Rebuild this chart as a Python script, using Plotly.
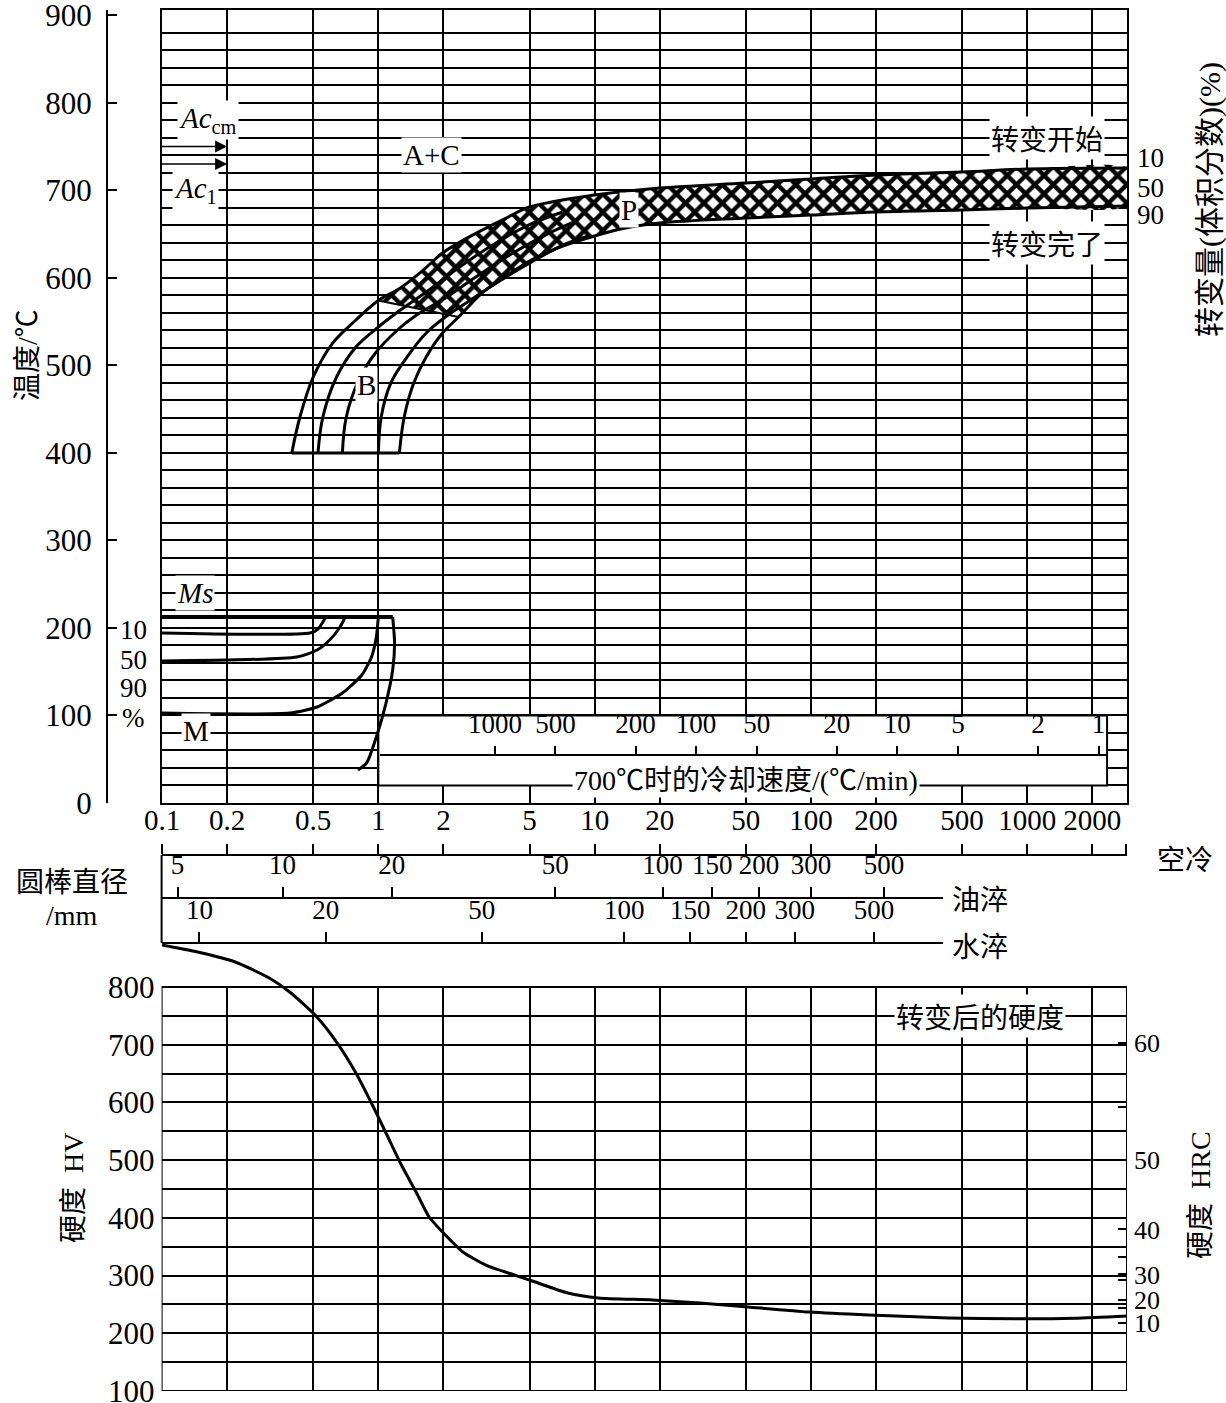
import math
import plotly.graph_objects as go

W, H = 1226, 1403

# ---------------- data ----------------
# x values are expressed on the air-cooled round-bar diameter scale (mm)
air_ticks = [0.1, 0.2, 0.5, 1, 2, 5, 10, 20, 50, 100, 200, 500, 1000, 2000]
air_labels = ["0.1", "0.2", "0.5", "1", "2", "5", "10", "20", "50", "100", "200", "500", "1000", "2000"]
oil_labels = ["5", "10", "20", "50", "100", "150", "200", "300", "500"]
oil_at_air = [0.118, 0.361, 1.153, 6.58, 20.6, 35.0, 57.5, 100, 217.5]
water_labels = ["10", "20", "50", "100", "150", "200", "300", "500"]
water_at_air = [0.149, 0.572, 3.01, 13.7, 27.7, 50, 84.1, 195.8]
rate_ticks = [1000, 500, 200, 100, 50, 20, 10, 5, 2, 1]
temp_ticks = [0, 100, 200, 300, 400, 500, 600, 700, 800, 900]
hv_ticks = [100, 200, 300, 400, 500, 600, 700, 800]
hrc_labels = ["60", "50", "40", "30", "20", "10"]
hrc_at_hv = [703, 500, 380, 302, 258, 218]
hrc_minor_at_hv = [592, 332, 292, 244]

ac_cm_t = 750
ac1_t = 730
ms_t = 212.5
bainite_base_t = 400

# pearlite start (10 %) incl. bainite start branch
ps_x = [0.398, 0.434, 0.5, 0.615, 0.788, 1.0, 1.264, 1.615, 1.98, 2.62, 3.90, 5, 10, 20, 50, 100, 200, 500, 1000, 2900]
ps_t = [400, 441, 486.7, 525.5, 551.8, 574, 588.4, 609, 628.4, 646.6, 668.3, 680.9, 694.6, 702.6, 708.3, 712.9, 717.5, 720.9, 724.3, 725.5]
# pearlite finish (90 %) incl. bainite finish branch
pf_x = [1.251, 1.317, 1.458, 1.664, 1.98, 2.35, 3.05, 3.90, 5, 6.73, 10, 13.87, 20, 50, 100, 200, 500, 1000, 2900]
pf_t = [400, 441, 479.8, 509.5, 536.9, 555.2, 583.8, 602.1, 619.2, 634.1, 647.8, 656.9, 662.6, 668.3, 671.7, 675.2, 677.5, 679.7, 682.1]
# intermediate bainite / pearlite curves
b2_x = [0.526, 0.554, 0.641, 0.788, 1.0, 1.264, 1.664, 2.27, 3.32, 4.84, 7.11]
b2_t = [400, 441, 486.7, 521, 543.8, 563.2, 583.8, 608.9, 636.4, 659.2, 675.2]
b3_x = [0.682, 0.711, 0.813, 0.970, 1.226, 1.503, 2.04, 2.82, 4.12, 6.03, 8.39]
b3_t = [400, 441, 483.3, 514.1, 540.4, 557.5, 576.9, 600.9, 627.2, 650, 666]
b4_x = [1.0, 1.031, 1.142, 1.357, 1.664, 2.04, 2.67, 3.70, 5.11, 7.15, 9.36]
b4_t = [400, 441, 479.8, 509.5, 537, 555.2, 574.7, 597.5, 618.1, 637.5, 647.8]

# martensite curves
m10_x = [0.1, 0.484, 0.526, 0.554, 0.572]
m10_t = [194.2, 194.2, 198.8, 206.8, 212.5]
m50_x = [0.1, 0.420, 0.521, 0.596, 0.661, 0.696, 0.703]
m50_t = [162.2, 166.8, 174.8, 186.2, 199.9, 210.2, 212.5]
m90_x = [0.1, 0.389, 0.521, 0.682, 0.839, 0.930, 0.979, 1.0]
m90_t = [102.8, 102.8, 109.7, 125.7, 146.2, 166.8, 189.6, 212.5]
m_end_x = [1.165, 1.189, 1.165, 1.085, 0.979, 0.883, 0.805]
m_end_t = [212.5, 182.8, 151.9, 114.2, 75.4, 45.7, 37.7]

# hardness after transformation
hv_x = [0.1, 0.146, 0.218, 0.313, 0.389, 0.51, 0.641, 0.788, 0.979, 1.107, 1.264, 1.503, 1.717, 1.98,
        2.46, 3.14, 5, 7.51, 10.4, 18.5, 30.7, 51.1, 97.9, 185.6, 431.5, 892, 1660, 2900]
hv_y = [872.8, 860.7, 843.4, 815.6, 791.4, 751.5, 704.7, 651, 581.7, 540.1, 495.1, 443.1, 401.5, 375.5,
        340.9, 318.3, 292.3, 269.8, 261.2, 257.7, 252.5, 245.6, 236.9, 231.7, 226.5, 225, 226, 230]

# ---------------- layout helpers ----------------
def px_x(px):
    return px / W

def px_y(py):
    return 1 - py / H

SERIF = "Liberation Serif"
CJK = "Noto Sans CJK SC"
MIX = "Liberation Serif, Noto Sans CJK SC"
FS = 29
FC = 28
tickfont = dict(family=SERIF, size=FS, color="black")
yfont = dict(family=SERIF, size=31, color="black")
smallfont = dict(family=SERIF, size=27, color="black")

X0, X1 = 161.6, 1127
XR = [-1.002, 3.4613]
PPD = (X1 - X0) / (XR[1] - XR[0])  # px per decade
XDOM = [px_x(X0), px_x(X1)]
YDOM = [px_y(803), px_y(10)]
YR = [0, 906]
Y2DOM = [px_y(1391), px_y(944)]
Y2R = [100, 100 + (1391 - 944) / 0.5771]
SCALE_END = 943
SDOM = [px_x(X0), px_x(SCALE_END)]
SR = [XR[0], XR[0] + (SCALE_END - X0) / PPD]
XLO, XHI = 10 ** XR[0], 10 ** XR[1]

fig = go.Figure()


def line(x, y, xa="x", ya="y", width=3, smooth=0.6):
    fig.add_trace(go.Scatter(x=x, y=y, mode="lines", xaxis=xa, yaxis=ya,
                             line=dict(color="black", width=width,
                                       shape="spline" if smooth else "linear",
                                       smoothing=smooth if smooth else 1),
                             showlegend=False, hoverinfo="skip"))

# hatched pearlite band
k = ps_x.index(1.0)
j = pf_x.index(2.35)
band_x = ps_x[k:] + pf_x[j:][::-1]
band_t = ps_t[k:] + pf_t[j:][::-1]
fig.add_trace(go.Scatter(x=band_x, y=band_t, mode="lines", fill="toself",
                         fillcolor="white",
                         line=dict(color="rgba(0,0,0,0)", width=0, shape="spline", smoothing=0.6),
                         fillpattern=dict(shape="x", fgcolor="black", bgcolor="white", fgopacity=1,
                                          size=13, solidity=0.55),
                         showlegend=False, hoverinfo="skip"))
line(ps_x, ps_t, smooth=1.0)
line(pf_x, pf_t, smooth=1.0)
line(b2_x, b2_t, smooth=1.0)
line(b3_x, b3_t, smooth=1.0)
line(b4_x, b4_t, smooth=1.0)
line([ps_x[k], pf_x[j]], [ps_t[k], pf_t[j]], width=2, smooth=0)
line([ps_x[0], pf_x[0]], [bainite_base_t, bainite_base_t], width=3, smooth=0)

# martensite
line([0.1, m_end_x[0]], [ms_t, ms_t], width=4, smooth=0)
line(m10_x, m10_t)
line(m50_x, m50_t)
line(m90_x, m90_t)
line(m_end_x, m_end_t)

# hardness curve
line(hv_x, hv_y, xa="x2", ya="y2", width=3)

# dummy traces to materialise extra axes
for xa, ya in [("x", "y3"), ("x3", "y5"), ("x4", "y5"), ("x5", "y5"), ("x6", "y5"), ("x2", "y4")]:
    fig.add_trace(go.Scatter(x=[], y=[], xaxis=xa, yaxis=ya, showlegend=False, hoverinfo="skip"))

grid = dict(showgrid=True, gridcolor="black", gridwidth=2, zeroline=False, automargin=False)


def scale_axis(domain, rng, pos, vals, texts, ticklen=10, font=tickfont):
    return dict(domain=domain, range=rng, type="log", anchor="free", position=pos, side="top",
                tickmode="array", tickvals=vals, ticktext=texts, ticks="outside", ticklen=ticklen,
                tickwidth=2, tickcolor="black", showline=True, linecolor="black", linewidth=2,
                showgrid=False, zeroline=False, tickfont=font, ticklabelstandoff=2,
                tickangle=0, automargin=False, ticklabeloverflow="allow")

fig.update_layout(
    width=W, height=H, margin=dict(l=0, r=0, t=0, b=0, autoexpand=False),
    paper_bgcolor="white", plot_bgcolor="rgba(0,0,0,0)",
    xaxis=dict(domain=XDOM, range=XR, type="log", anchor="y", tickmode="array", tickvals=air_ticks,
               showticklabels=False, ticks="", showline=True, mirror=True, linecolor="black", linewidth=2, **grid),
    yaxis=dict(domain=YDOM, range=YR, anchor="x", tickmode="array", tickvals=list(range(20, 900, 20)),
               showticklabels=False, ticks="", showline=True, mirror=True, linecolor="black", linewidth=2, **grid),
    yaxis3=dict(overlaying="y", anchor="free", position=px_x(107), side="left", range=YR,
                tickmode="array", tickvals=temp_ticks, ticktext=[str(t) for t in temp_ticks],
                ticks="inside", ticklen=9, tickwidth=2, tickcolor="black", showline=True,
                linecolor="black", linewidth=2, showgrid=False, zeroline=False, tickfont=yfont,
                ticklabelstandoff=8, automargin=False, ticklabeloverflow="allow"),
    xaxis3=scale_axis(XDOM, XR, px_y(855), air_ticks + [2850], air_labels + [""]),
    xaxis4=scale_axis(SDOM, SR, px_y(898), oil_at_air, oil_labels, font=smallfont),
    xaxis5=scale_axis(SDOM, SR, px_y(943), water_at_air, water_labels, font=smallfont),
    xaxis6=scale_axis([px_x(380), px_x(1107)], [3.571, -0.042], px_y(755), rate_ticks,
                      [str(r) for r in rate_ticks], ticklen=8, font=smallfont),
    yaxis5=dict(visible=False, domain=[0.40, 0.41], range=[0, 1], anchor="x3", showgrid=False,
                automargin=False),
    xaxis2=dict(domain=XDOM, range=XR, type="log", anchor="y2", tickmode="array", tickvals=air_ticks,
                showticklabels=False, ticks="", showline=False, **grid),
    yaxis2=dict(domain=Y2DOM, range=Y2R, anchor="x2", tickmode="array",
                tickvals=list(range(100, 801, 50)),
                ticktext=[str(v) if v % 100 == 0 else "" for v in range(100, 801, 50)],
                ticks="", showline=False, tickfont=yfont, ticklabelstandoff=6,
                ticklabeloverflow="allow", **grid),
    yaxis4=dict(overlaying="y2", anchor="x2", side="right", range=Y2R, tickmode="array",
                tickvals=hrc_at_hv + hrc_minor_at_hv, ticktext=hrc_labels + [""] * len(hrc_minor_at_hv),
                ticks="inside", ticklen=9, tickwidth=2, tickcolor="black", showgrid=False,
                showline=False, zeroline=False, tickfont=dict(family=SERIF, size=26, color="black"),
                ticklabelstandoff=6, automargin=False, ticklabeloverflow="allow"),
)

shapes = [
    # cooling-rate scale box inside the CCT chart
    dict(type="rect", xref="x", yref="y", x0=1, x1=2340, y0=20, y1=100, fillcolor="white",
         line=dict(color="black", width=2), layer="between"),
    # blank strip above hardness frame (curve passes through it)
    dict(type="rect", xref="x2", yref="y2", x0=XLO, x1=XHI, y0=800, y1=Y2R[1], fillcolor="white",
         line=dict(width=0), layer="between"),
    # hardness chart frame
    dict(type="rect", xref="x2", yref="y2", x0=XLO, x1=XHI, y0=100, y1=800,
         line=dict(color="black", width=2), layer="above"),
    # left edge of diameter scales
    dict(type="line", xref="paper", yref="paper", x0=px_x(X0), x1=px_x(X0), y0=px_y(943), y1=px_y(855),
         line=dict(color="black", width=2)),
]
fig.update_layout(shapes=shapes)

ann = []


def lab(text, x, y, xref="x", yref="y", font=SERIF, size=FS, bg="white"):
    ann.append(dict(text=text, x=x, y=y, xref=xref, yref=yref, showarrow=False,
                    font=dict(family=font, size=size, color="black"), bgcolor=bg, borderpad=1,
                    xanchor="center", yanchor="middle"))

L = math.log10
# labels on grid lines inside CCT chart
lab("<i>Ac</i><sub>cm</sub>", L(0.1626), 780)
lab("<i>Ac</i><sub>1</sub>", L(0.1423), 700)
lab("A+C", L(1.752), 740)
lab("B", L(0.883), 478)
lab("P", L(14.4), 678)
lab("转变开始", L(1230), 760, font=CJK, size=FC)
lab("转变完了", L(1230), 640, font=CJK, size=FC)
lab("<i>Ms</i>", L(0.1423), 240)
lab("M", L(0.1440), 82)
lab("700℃时的冷却速度/(℃/min)", L(50), 26, font=MIX, size=FC)
lab("转变后的硬度", L(608), 750, xref="x2", yref="y2", font=CJK, size=FC)


def plab(text, px, py, font=SERIF, angle=0, size=FS):
    ann.append(dict(text=text, x=px_x(px), y=px_y(py), xref="paper", yref="paper", showarrow=False,
                    font=dict(family=font, size=size, color="black"), textangle=angle,
                    xanchor="center", yanchor="middle"))

plab("温度/℃", 28, 355, font=MIX, angle=-90, size=FC)
plab("转变量(体积分数)(%)", 1210, 200, font=MIX, angle=-90, size=30)
for t, py in zip(["10", "50", "90"], [158, 188, 215]):
    plab(t, 1150, py, size=27)
for t, py in zip(["10", "50", "90", "%"], [630, 660, 688, 718]):
    plab(t, 133, py, size=27)
plab("圆棒直径", 72, 880, font=CJK, size=FC)
plab("/mm", 72, 915, font=MIX, size=FC)
plab("空冷", 1185, 858, font=CJK, size=FC)
plab("油淬", 980, 898, font=CJK, size=FC)
plab("水淬", 980, 945, font=CJK, size=FC)
plab("硬度  HV", 73, 1188, font=MIX, angle=-90, size=FC)
plab("硬度  HRC", 1200, 1195, font=MIX, angle=-90, size=FC)

# Ac arrows
for t in [ac_cm_t, ac1_t]:
    ann.append(dict(x=L(0.2), y=t, ax=L(0.098), ay=t, xref="x", yref="y", axref="x", ayref="y",
                    showarrow=True, arrowhead=2, arrowsize=1.5, arrowwidth=1.6, arrowcolor="black", text=""))

fig.update_layout(annotations=ann)

fig.write_html("out.html", include_plotlyjs=True, full_html=True,
               config={"displayModeBar": False, "staticPlot": True},
               post_script="document.body.style.margin='0';document.body.style.overflow='hidden';")
